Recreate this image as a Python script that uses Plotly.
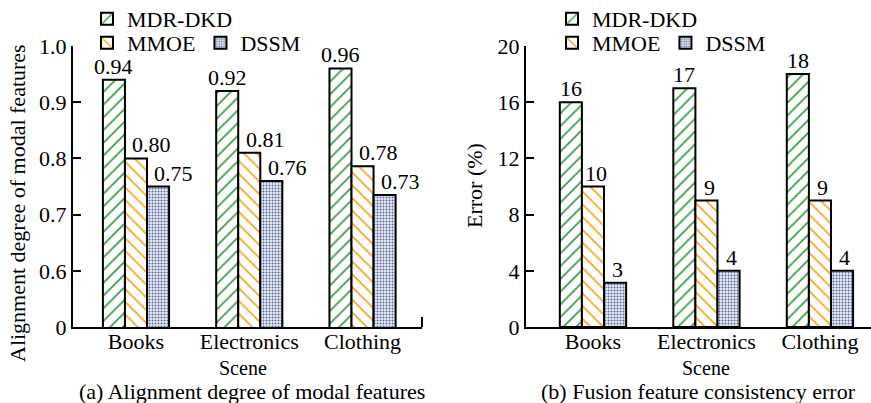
import plotly.graph_objects as go

# ---------------- data ----------------
categories = ["Books", "Electronics", "Clothing"]
x_title = "Scene"
series_names = ["MDR-DKD", "MMOE", "DSSM"]

align_mdr = [0.94, 0.92, 0.96]
align_mmoe = [0.80, 0.81, 0.786]
align_dssm = [0.75, 0.76, 0.735]
align_labels_mdr = ["0.94", "0.92", "0.96"]
align_labels_mmoe = ["0.80", "0.81", "0.78"]
align_labels_dssm = ["0.75", "0.76", "0.73"]

err_mdr = [16, 17, 18]
err_mmoe = [10, 9, 9]
err_dssm = [3.15, 4, 4]

align_tickvals = [0.5, 0.6, 0.7, 0.8, 0.9, 1.0]
align_ticktext = ["0", "0.6", "0.7", "0.8", "0.9", "1.0"]
err_tickvals = [0, 4, 8, 12, 16, 20]

subtitle_a = "(a) Alignment degree of modal features"
subtitle_b = "(b) Fusion feature consistency error"
ytitle_a = "Alignment degree of modal features"
ytitle_b = "Error (%)"

# ---------------- style ----------------
W, H = 871, 403
FONT = "Liberation Serif, Times New Roman, serif"
FS = 22
GREEN = "#3d9e4a"
ORANGE = "#f5a623"
NAVY = "#56669a"
DOTBG = "#eaedf5"

patterns = [
    dict(shape="/", fgcolor=GREEN, bgcolor="white", size=9, solidity=0.2, fillmode="replace"),
    dict(shape="\\", fgcolor=ORANGE, bgcolor="white", size=9, solidity=0.2, fillmode="replace"),
    dict(shape=".", fgcolor=NAVY, bgcolor=DOTBG, size=3, solidity=0.35, fillmode="replace"),
]

fig = go.Figure()

left_data = [align_mdr, align_mmoe, align_dssm]
right_data = [err_mdr, err_mmoe, err_dssm]
left_legends = ["legend", "legend2", "legend2"]
right_legends = ["legend3", "legend4", "legend4"]

for i, name in enumerate(series_names):
    fig.add_trace(go.Bar(
        x=categories, y=left_data[i], name=name,
        marker=dict(color="white", pattern=patterns[i], line=dict(color="black", width=2)),
        xaxis="x", yaxis="y", legend=left_legends[i], showlegend=True,
    ))
for i, name in enumerate(series_names):
    fig.add_trace(go.Bar(
        x=categories, y=right_data[i], name=name,
        marker=dict(color="white", pattern=patterns[i], line=dict(color="black", width=2)),
        xaxis="x2", yaxis="y2", legend=right_legends[i], showlegend=True,
    ))

# value labels
left_labels = [align_labels_mdr, align_labels_mmoe, align_labels_dssm]
left_shift = [-22, 16, 38]
right_shift = [-22, 3, 25]
txtfont = dict(family=FONT, size=FS, color="black")
annotations = []
for i in range(3):
    for j, cat in enumerate(categories):
        annotations.append(dict(
            x=cat, y=left_data[i][j], xref="x", yref="y", text=left_labels[i][j],
            showarrow=False, xanchor="center", yanchor="bottom", xshift=left_shift[i], yshift=-1,
            font=txtfont))
        annotations.append(dict(
            x=cat, y=right_data[i][j], xref="x2", yref="y2", text=f"{right_data[i][j]:.0f}",
            showarrow=False, xanchor="center", yanchor="bottom", xshift=right_shift[i], yshift=-1,
            font=txtfont))

# subtitles
annotations.append(dict(x=252.5 / W, y=1 - 391 / H, xref="paper", yref="paper", text=subtitle_a,
                        showarrow=False, xanchor="center", yanchor="middle", font=txtfont))
annotations.append(dict(x=698.5 / W, y=1 - 391 / H, xref="paper", yref="paper", text=subtitle_b,
                        showarrow=False, xanchor="center", yanchor="middle", font=txtfont))
# y titles
annotations.append(dict(x=17 / W, y=1 - 203 / H, xref="paper", yref="paper", text=ytitle_a,
                        showarrow=False, textangle=-90, xanchor="center", yanchor="middle",
                        font=txtfont))
annotations.append(dict(x=474 / W, y=1 - 186 / H, xref="paper", yref="paper", text=ytitle_b,
                        showarrow=False, textangle=-90, xanchor="center", yanchor="middle",
                        font=txtfont))
# x titles ("Scene") under the middle category
scene_font = dict(family=FONT, size=20, color="black")
annotations.append(dict(x=1, y=1 - 367.5 / H, xref="x", yref="paper", text=x_title, xshift=-6,
                        showarrow=False, xanchor="center", yanchor="middle", borderpad=0,
                        font=scene_font))
annotations.append(dict(x=1, y=1 - 367.5 / H, xref="x2", yref="paper", text=x_title,
                        showarrow=False, xanchor="center", yanchor="middle", borderpad=0,
                        font=scene_font))

ydom = [1 - 327 / H, 1 - 46 / H]
axis_common = dict(showline=True, linecolor="black", linewidth=2, showgrid=False, zeroline=False,
                   automargin=False, tickfont=txtfont)

legend_common = dict(font=txtfont, bgcolor="rgba(0,0,0,0)",
                     borderwidth=0, xanchor="left", yanchor="top", tracegroupgap=0,
                     itemclick=False, itemdoubleclick=False)

fig.update_layout(
    width=W, height=H, margin=dict(l=0, r=0, t=0, b=0, autoexpand=False),
    paper_bgcolor="white", plot_bgcolor="white",
    barmode="group", bargap=0.416, bargroupgap=0,
    font=txtfont,
    xaxis=dict(domain=[73 / W, 422 / W], anchor="y", type="category", range=[-0.556, 2.525],
               ticks="", ticklabelstandoff=-6, **axis_common),
    yaxis=dict(domain=ydom, anchor="x", range=[0.5, 1.0], tickvals=align_tickvals,
               ticktext=align_ticktext, ticks="inside", ticklen=8, tickwidth=2, tickcolor="black",
               **axis_common),
    xaxis2=dict(domain=[526 / W, 1.0], anchor="y2", type="category", range=[-0.59, 2.45],
                ticks="", ticklabelstandoff=-6, **axis_common),
    yaxis2=dict(domain=ydom, anchor="x2", range=[0, 20], tickvals=err_tickvals,
                ticks="inside", ticklen=8, tickwidth=2, tickcolor="black", **axis_common),
    legend=dict(x=87 / W, y=1 + 2 / H, orientation="v", **legend_common),
    legend2=dict(x=87 / W, y=1 - 22 / H, orientation="h", **legend_common),
    legend3=dict(x=552 / W, y=1 + 2 / H, orientation="v", **legend_common),
    legend4=dict(x=552 / W, y=1 - 22 / H, orientation="h", **legend_common),
    annotations=annotations,
    shapes=[dict(type="line", xref="x domain", yref="y domain", x0=1, x1=1, y0=0, y1=0.036,
                 line=dict(color="black", width=2))],
)

fig.write_html("out.html")
